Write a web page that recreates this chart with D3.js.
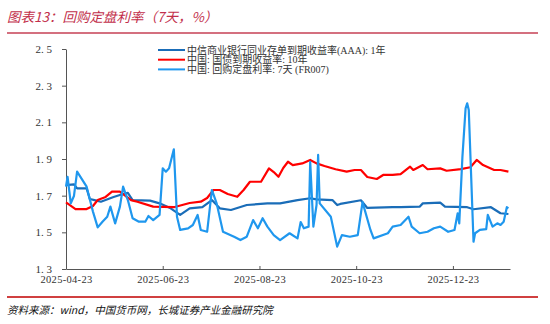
<!DOCTYPE html>
<html><head><meta charset="utf-8">
<script src="https://cdn.jsdelivr.net/npm/d3@7"></script>
<style>
html,body{margin:0;padding:0;background:#fff;}
svg{display:block;}
</style></head>
<body>
<svg id="c" width="550" height="324"></svg>
<script>
// ---- data ----
const titleText = "图表13：回购定盘利率（7天，%）";
const sourceText = "资料来源：wind，中国货币网，长城证券产业金融研究院";
const seriesNames = ["中信商业银行同业存单到期收益率(AAA): 1年", "中国: 国债到期收益率: 10年", "中国: 回购定盘利率: 7天 (FR007)"];
const yTicks = [1.3, 1.5, 1.7, 1.9, 2.1, 2.3, 2.5];
const xTicks = ["2025-04-23", "2025-06-23", "2025-08-23", "2025-10-23", "2025-12-23"];

const cdDates = ["2025-04-23","2025-04-28","2025-04-30","2025-05-06","2025-05-08","2025-05-11","2025-05-15","2025-05-23","2025-05-27","2025-06-01","2025-06-04","2025-06-15","2025-06-21","2025-06-28","2025-07-04","2025-07-10","2025-07-18","2025-07-24","2025-07-29","2025-08-05","2025-08-15","2025-08-28","2025-09-05","2025-09-16","2025-09-24","2025-09-28","2025-10-08","2025-10-11","2025-10-13","2025-10-26","2025-10-30","2025-11-15","2025-11-20","2025-12-02","2025-12-04","2025-12-15","2025-12-18","2026-01-01","2026-01-05","2026-01-16","2026-01-22","2026-01-27"];
const cdValues = [1.758,1.762,1.740,1.740,1.682,1.676,1.667,1.693,1.704,1.715,1.676,1.673,1.658,1.631,1.595,1.631,1.637,1.676,1.631,1.622,1.649,1.658,1.658,1.676,1.686,1.680,1.676,1.649,1.655,1.675,1.633,1.637,1.637,1.640,1.658,1.662,1.640,1.637,1.626,1.637,1.604,1.600];

const govDates = ["2025-04-23","2025-04-29","2025-05-06","2025-05-10","2025-05-13","2025-05-18","2025-05-22","2025-05-27","2025-06-03","2025-06-07","2025-06-17","2025-06-30","2025-07-10","2025-07-17","2025-07-21","2025-07-25","2025-07-29","2025-08-03","2025-08-09","2025-08-13","2025-08-17","2025-08-24","2025-08-29","2025-09-01","2025-09-04","2025-09-07","2025-09-10","2025-09-13","2025-09-19","2025-09-24","2025-09-28","2025-10-03","2025-10-10","2025-10-17","2025-10-22","2025-10-26","2025-10-30","2025-11-05","2025-11-09","2025-11-15","2025-11-20","2025-11-26","2025-11-28","2025-12-04","2025-12-07","2025-12-15","2025-12-19","2025-12-28","2026-01-03","2026-01-07","2026-01-11","2026-01-18","2026-01-22","2026-01-27"];
const govValues = [1.663,1.627,1.627,1.644,1.676,1.693,1.722,1.722,1.676,1.667,1.640,1.637,1.660,1.667,1.687,1.731,1.731,1.709,1.694,1.731,1.776,1.776,1.849,1.829,1.803,1.851,1.885,1.867,1.876,1.895,1.876,1.862,1.844,1.831,1.840,1.840,1.802,1.791,1.813,1.813,1.817,1.858,1.840,1.867,1.844,1.849,1.836,1.845,1.855,1.895,1.867,1.840,1.840,1.831];

const frDates = ["2025-04-23","2025-04-24","2025-04-26","2025-04-28","2025-04-30","2025-05-06","2025-05-10","2025-05-13","2025-05-16","2025-05-19","2025-05-21","2025-05-24","2025-05-27","2025-05-29","2025-06-01","2025-06-04","2025-06-08","2025-06-12","2025-06-14","2025-06-17","2025-06-21","2025-06-23","2025-06-25","2025-06-27","2025-06-30","2025-07-02","2025-07-04","2025-07-09","2025-07-12","2025-07-15","2025-07-17","2025-07-21","2025-07-24","2025-07-27","2025-07-31","2025-08-07","2025-08-11","2025-08-15","2025-08-19","2025-08-22","2025-08-25","2025-08-28","2025-09-01","2025-09-05","2025-09-11","2025-09-16","2025-09-18","2025-09-20","2025-09-23","2025-09-24","2025-09-26","2025-09-28","2025-09-29","2025-09-30","2025-10-07","2025-10-11","2025-10-14","2025-10-19","2025-10-24","2025-10-27","2025-11-01","2025-11-03","2025-11-12","2025-11-15","2025-11-20","2025-11-25","2025-11-27","2025-12-02","2025-12-07","2025-12-11","2025-12-15","2025-12-20","2025-12-24","2025-12-26","2025-12-27","2025-12-29","2025-12-31","2026-01-01","2026-01-02","2026-01-05","2026-01-06","2026-01-09","2026-01-13","2026-01-14","2026-01-17","2026-01-20","2026-01-22","2026-01-24","2026-01-26","2026-01-27"];
const frValues = [1.749,1.803,1.658,1.698,1.831,1.749,1.613,1.527,1.558,1.585,1.640,1.549,1.640,1.749,1.676,1.577,1.558,1.558,1.589,1.567,1.595,1.849,1.831,1.849,1.953,1.585,1.513,1.522,1.540,1.595,1.513,1.503,1.731,1.658,1.503,1.476,1.458,1.476,1.567,1.522,1.577,1.531,1.485,1.458,1.495,1.467,1.556,1.522,1.531,1.884,1.531,1.649,1.922,1.658,1.585,1.422,1.485,1.476,1.485,1.665,1.513,1.467,1.495,1.531,1.540,1.585,1.531,1.495,1.503,1.522,1.531,1.503,1.513,1.604,1.549,1.913,2.177,2.204,2.167,1.449,1.495,1.513,1.517,1.595,1.531,1.549,1.540,1.558,1.637,1.631];

const colors = ["#1a6db8", "#ff0000", "#1f97ee"];

// ---- chart ----
const parse = d3.timeParse("%Y-%m-%d");
const svg = d3.select("#c");
const cjk = "'Noto Sans CJK SC', 'Noto Sans', sans-serif";
const serif = "'Liberation Serif', 'Noto Sans CJK SC', serif";

// title
svg.append("text").attr("x", 7).attr("y", 22).text(titleText)
  .attr("font-family", cjk).attr("font-size", 13.5).attr("font-style", "italic")
  .attr("fill", "#c22f4b");
svg.append("line").attr("x1", 7).attr("x2", 538).attr("y1", 33).attr("y2", 33)
  .attr("stroke", "#d4707f").attr("stroke-width", 2);

// footer
svg.append("line").attr("x1", 7).attr("x2", 538).attr("y1", 297).attr("y2", 297)
  .attr("stroke", "#c00000").attr("stroke-width", 1.5);
svg.append("text").attr("x", 7).attr("y", 314).text(sourceText)
  .attr("font-family", cjk).attr("font-size", 10.5).attr("font-style", "italic")
  .attr("fill", "#111");

const x = d3.scaleTime().domain([parse("2025-04-23"), parse("2026-01-28")]).range([66, 510]);
const y = d3.scaleLinear().domain([1.3, 2.5]).range([269, 49]);

// y axis
const yAxis = svg.append("g").attr("transform", "translate(66,0)")
  .call(d3.axisLeft(y).tickValues(yTicks).tickSize(4).tickSizeOuter(0)
    .tickFormat(d => d.toFixed(1).replace(".", ". ")));
yAxis.select(".domain").attr("stroke", "#555");
yAxis.selectAll(".tick line").attr("stroke", "#555");
yAxis.selectAll(".tick text").attr("font-family", serif).attr("font-size", 11)
  .attr("fill", "#333").attr("x", -14);

// x axis
const xAxis = svg.append("g").attr("transform", "translate(0,269)")
  .call(d3.axisBottom(x).tickValues(xTicks.map(parse)).tickSizeInner(-3).tickSizeOuter(0)
    .tickFormat(d3.timeFormat("%Y-%m-%d")));
xAxis.select(".domain").attr("stroke", "#555");
xAxis.selectAll(".tick line").attr("stroke", "#555");
xAxis.selectAll(".tick text").attr("font-family", serif).attr("font-size", 10.5)
  .attr("fill", "#333").attr("y", 7).attr("letter-spacing", 0.3);

// lines
const line = d3.line().x(d => x(d[0])).y(d => y(d[1]));
const series = [
  cdDates.map((d, i) => [parse(d), cdValues[i]]),
  govDates.map((d, i) => [parse(d), govValues[i]]),
  frDates.map((d, i) => [parse(d), frValues[i]])
];
series.forEach((s, i) => {
  svg.append("path").datum(s).attr("d", line)
    .attr("fill", "none").attr("stroke", colors[i]).attr("stroke-width", 2.2)
    .attr("stroke-linejoin", "round");
});

// legend
const lg = svg.append("g");
seriesNames.forEach((n, i) => {
  const ly = 50 + i * 9.7;
  lg.append("line").attr("x1", 158).attr("x2", 185).attr("y1", ly).attr("y2", ly)
    .attr("stroke", colors[i]).attr("stroke-width", 2);
  lg.append("text").attr("x", 187).attr("y", ly + 3.6).text(n)
    .attr("font-family", serif).attr("font-size", 10).attr("fill", "#333");
});
</script>
</body></html>
